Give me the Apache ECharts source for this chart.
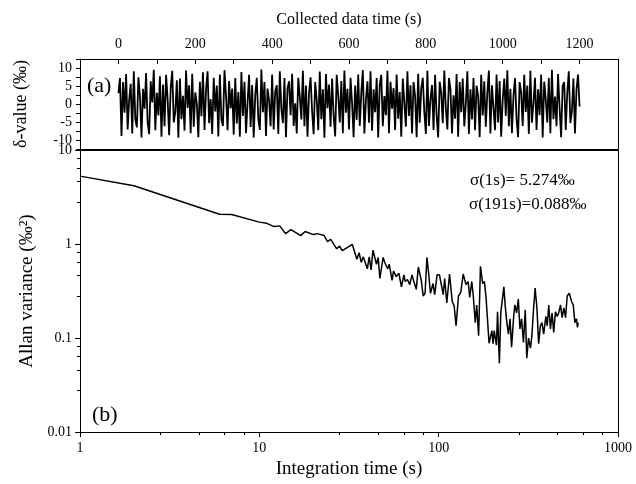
<!DOCTYPE html>
<html><head><meta charset="utf-8">
<script src="https://cdn.jsdelivr.net/npm/echarts@6/dist/echarts.min.js"></script>
<style>html,body{margin:0;padding:0;background:#fff}#c{width:636px;height:484px}</style>
</head><body><div id="c"></div>
<script>
// Panel (a): delta-value time series, one value every sampleStep seconds
const sampleStep = 4;
const deltaValues = [
3, 7.2, -8.9, 6.1, -2.4, 8.3, -7.1, 1.2, 5.6, -8.2, 9.1, -4.3, -6.5, 7.4, 2.1, -9.3, 4.2, -1.3, 8.6, -5.2,
-8.4, 6.3, 0.4, 9.5, -7.3, 3.1, -3.2, 7.7, -9.1, 5.4, -6.2, 8.1, 1.3, -8.7, 4.4, 9.2, -5.1, -2.2, 6.6, -9.4,
7.1, -4.2, 2.3, -7.4, 9.3, -1.1, 5.2, -8.1, 8.4, -6.3, 3.2, 0.1, -9.2, 6.2, -3.4, 8.8, -7.2, 4.1, 9.1, -5.3,
1.4, -8.3, 7.3, -2.1, 5.1, -9.0, 8.2, -4.4, -6.1, 9.4, 2.2, -7.3, 6.4, -1.2, 4.3, -8.5, 7.2, -5.4, 3.3, -9.1,
8.9, -3.3, 6.2, -8.1, 0.3, 8.1, -6.4, 5.3, -9.3, 2.4, 7.3, -4.1, -7.2, 9.6, -2.3, 6.1, -8.9, 4.3, 1.1, -6.2,
8.2, -7.1, 3.4, 5.2, -8.3, 9.1, -1.4, -5.3, 7.2, -9.2, 4.4, 6.3, -3.1, 8.4, -6.1, 0.2, -8.2, 7.3, 2.1, -4.3,
9.2, -6.2, 5.1, -9.1, 3.2, 7.4, -2.1, -8.4, 6.1, 1.2, -7.3, 9.0, -4.2, 4.1, -9.4, 8.3, -1.2, 5.4, -6.3, 7.1,
-3.2, -9.0, 8.1, 2.3, -5.1, 6.4, -8.1, 9.3, -2.4, 4.2, -7.1, 7.3, 0.2, -9.2, 5.1, -4.4, 8.2, -6.1, 3.1, 9.4,
-8.2, 1.1, 6.3, -5.2, 9.1, -7.4, 4.1, -2.3, 7.2, -9.3, 5.3, 8.1, -6.2, 2.2, -3.1, 9.2, -8.1, 6.2, -1.3, 4.4,
-7.2, 8.2, -4.1, 3.3, -9.1, 7.1, 0.3, -6.3, 9.1, -3.3, 5.2, -8.2, 6.1, 2.1, -9.2, 8.4, -5.2, 4.2, 7.3, -2.2,
-8.3, 9.2, -6.1, 1.3, 5.3, -7.2, 8.1, -3.1, -9.3, 6.2, 3.1, -5.3, 9.3, -1.2, -7.1, 7.2, 4.3, -8.2, 2.4, -4.1,
8.3, -9.1, 6.1, -2.3, 7.1, -6.2, 0.1, 9.1, -8.3, 4.1, -4.3, 7.2, -7.3, 5.1, 2.2, -9.2, 8.1, -3.2, 6.3, -6.3,
3.1, 9.3, -8.2, 5.2, -1.1, -7.3, 8.2, -5.1, 6.4, -9.1, 1.2, 7.1, -3.3, 9.4, -6.2, 4.2, -8.1, 2.3, 7.2, -4.2,
-9.2, 6.1, 3.2, -6.1, 8.1, -2.2, 5.1, -8.3, 9.2, -5.2, 0.2, 7.3, -7.2, 4.1, -3.1, 8.2, -9.3, 6.2, 1.3, -5.1,
7.2, -8.1, 9.5, -4.2, 2.1, -6.2, 8.3, -1.1, -9.2, 5.2, 6.1, -7.2, 3.2, 9.1, -5.3, -2.1, 7.1, -8.2, 4.1, 8.2,
-0.7
];
const timeLabels = [0,200,400,600,800,1000,1200];
const deltaLabels = [-10,-5,0,5,10];

// Panel (b): Allan variance vs integration time
const tauValues = [1,2,6,7,10,11,12,13,14,15,17,18,20,21,23,24,25,27,28,29,33,35,36,37,38,40,41,42,43,45,46,47,49,50,52,53,55,56,58,60,62,64,65,67,69,71,73,75,77,80,82,84,86,88,90,93,95,98,101,104,106,108,111,115,119,122,125,129,133,137,142,146,149,153,156,160,163,167,171,176,180,184,188,191,198,201,204,210,213,218,222,231,235,240,245,250,255,262,266,272,278,284,290,297,304,310,317,325,331,338,345,353,361,369,377,385,396,403,411,420,429,438,448,458,467,478,488,499,510,521,535,551,563,575,587,594,600];
const allanValues = [5.274,4.16,2.07,2.06,1.71,1.66,1.54,1.56,1.29,1.42,1.23,1.36,1.26,1.29,1.23,1.06,1.12,0.89,0.95,0.85,0.99,0.69,0.81,0.64,0.73,0.545,0.73,0.53,0.86,0.61,0.72,0.43,0.72,0.64,0.545,0.61,0.41,0.515,0.45,0.49,0.35,0.47,0.40,0.42,0.37,0.47,0.39,0.33,0.57,0.41,0.28,0.30,0.72,0.48,0.30,0.38,0.29,0.47,0.47,0.35,0.29,0.43,0.236,0.48,0.245,0.22,0.135,0.28,0.31,0.48,0.37,0.40,0.27,0.40,0.28,0.146,0.225,0.106,0.58,0.38,0.40,0.26,0.27,0.088,0.12,0.087,0.12,0.084,0.19,0.054,0.185,0.35,0.22,0.146,0.11,0.16,0.08,0.17,0.225,0.185,0.26,0.125,0.16,0.09,0.2,0.061,0.10,0.078,0.106,0.2,0.34,0.21,0.087,0.135,0.146,0.11,0.17,0.135,0.225,0.125,0.185,0.115,0.19,0.17,0.185,0.225,0.165,0.21,0.165,0.28,0.30,0.245,0.225,0.146,0.16,0.13,0.146];

const FONT = 'Liberation Serif';
const black = '#000';
const axLine = () => ({show:true, onZero:false, lineStyle:{color:black, width:1}});
const blackTick = (len, inside) => ({show:true, inside:!!inside, length:len, lineStyle:{color:black, width:1}});
const lbl = (extra) => Object.assign({color:black, fontFamily:FONT, fontSize:14}, extra);
const chart = echarts.init(document.getElementById('c'), null, {renderer:'canvas'});
chart.setOption({
  animation:false,
  backgroundColor:'#fff',
  grid:[
    {left:80, right:18, top:59, height:90},
    {left:80, right:18, top:150, height:289}
  ],
  xAxis:[
    {gridIndex:0, type:'value', position:'top', min:-100, max:1300, interval:100,
     axisLine:axLine(), splitLine:{show:false},
     axisTick:blackTick(5, true),
     axisLabel:lbl({margin:8, showMinLabel:true, showMaxLabel:true,
       formatter: v => timeLabels.indexOf(v) >= 0 ? String(v) : ''}),
     name:'Collected data time (s)', nameLocation:'middle', nameGap:31,
     nameTextStyle:{color:black, fontFamily:FONT, fontSize:16}},
    {gridIndex:0, type:'value', position:'bottom', min:-100, max:1300,
     axisLine:axLine(), axisTick:{show:false}, axisLabel:{show:false}, splitLine:{show:false}},
    {gridIndex:1, type:'log', logBase:10, position:'bottom', min:1, max:1000,
     axisLine:axLine(), splitLine:{show:false},
     axisTick:blackTick(5),
     minorTick:{show:true, length:3, lineStyle:{color:black, width:1}},
     axisLabel:lbl({margin:9, formatter: v => String(v)}),
     name:'Integration time (s)', nameLocation:'middle', nameGap:25,
     nameTextStyle:{color:black, fontFamily:FONT, fontSize:19}},
    {gridIndex:1, type:'log', logBase:10, position:'top', min:1, max:1000,
     axisLine:axLine(), axisTick:{show:false}, axisLabel:{show:false}, splitLine:{show:false}}
  ],
  yAxis:[
    {gridIndex:0, type:'value', position:'left', min:-12.5, max:12.5, interval:2.5,
     axisLine:axLine(), splitLine:{show:false},
     axisTick:blackTick(4),
     axisLabel:lbl({margin:8, formatter: v => deltaLabels.indexOf(v) >= 0 ? String(v) : ''}),
     name:'δ-value (‰)', nameLocation:'middle', nameGap:50,
     nameTextStyle:{color:black, fontFamily:FONT, fontSize:18}},
    {gridIndex:0, type:'value', position:'right', min:-12.5, max:12.5,
     axisLine:axLine(), axisTick:{show:false}, axisLabel:{show:false}, splitLine:{show:false}},
    {gridIndex:1, type:'log', logBase:10, position:'left', min:0.01, max:10,
     axisLine:axLine(), splitLine:{show:false},
     axisTick:blackTick(5),
     minorTick:{show:true, length:3, lineStyle:{color:black, width:1}},
     axisLabel:lbl({margin:8, formatter: v => String(v)}),
     name:'Allan variance (‰²)', nameLocation:'middle', nameGap:40,
     nameTextStyle:{color:black, fontFamily:FONT, fontSize:19}},
    {gridIndex:1, type:'log', logBase:10, position:'right', min:0.01, max:10,
     axisLine:axLine(), axisTick:{show:false}, axisLabel:{show:false}, splitLine:{show:false}}
  ],
  series:[
    {type:'line', xAxisIndex:0, yAxisIndex:0, showSymbol:false, symbol:'none',
     data:deltaValues.map((v,i)=>[i*sampleStep, v]),
     lineStyle:{color:black, width:1.8}},
    {type:'line', xAxisIndex:2, yAxisIndex:2, showSymbol:false, symbol:'none',
     data:tauValues.map((t,i)=>[t, allanValues[i]]),
     lineStyle:{color:black, width:1.5}}
  ],
  graphic:[
    {type:'text', x:87, y:86, style:{text:'(a)', fill:black, font:'22px "Liberation Serif"', verticalAlign:'middle'}},
    {type:'text', x:92, y:415, style:{text:'(b)', fill:black, font:'22px "Liberation Serif"', verticalAlign:'middle'}},
    {type:'text', x:470, y:181, style:{text:'σ(1s)= 5.274‰', fill:black, font:'17px "Liberation Serif"', verticalAlign:'middle'}},
    {type:'text', x:469, y:205, style:{text:'σ(191s)=0.088‰', fill:black, font:'17px "Liberation Serif"', verticalAlign:'middle'}}
  ]
});
</script></body></html>
